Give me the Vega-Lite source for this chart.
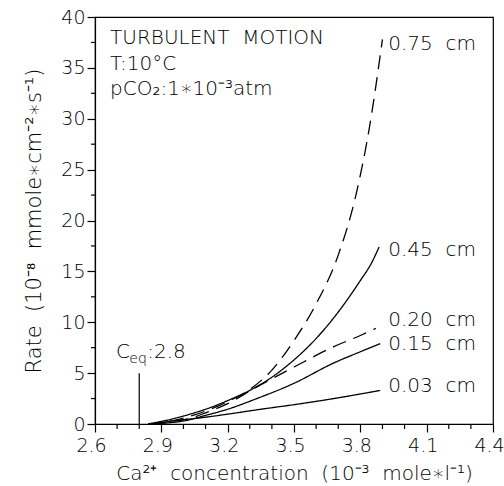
{
  "$schema": "https://vega.github.io/schema/vega-lite/v6.json",
  "autosize": {"type": "none"},
  "padding": {"left": 95, "top": 17, "right": 11, "bottom": 62},
  "width": 398,
  "height": 407,
  "config": {
    "view": {"stroke": "black", "strokeWidth": 1.2},
    "font": "DejaVu Sans",
    "axis": {"grid": false, "domainColor": "black", "tickColor": "black", "labelColor": "black", "titleColor": "black", "labelFont": "DejaVu Sans", "titleFont": "DejaVu Sans", "labelFontWeight": 300, "titleFontWeight": 300, "tickWidth": 1.2, "domainWidth": 1.2}
  },
  "datasets": {
    "curves": [
      {"s": "0.75", "x": 2.84, "y": 0}, {"s": "0.75", "x": 2.95, "y": 0.3}, {"s": "0.75", "x": 3.05, "y": 0.9}, {"s": "0.75", "x": 3.15, "y": 1.7}, {"s": "0.75", "x": 3.2, "y": 2.2}, {"s": "0.75", "x": 3.3, "y": 3.4}, {"s": "0.75", "x": 3.4, "y": 5.3}, {"s": "0.75", "x": 3.5, "y": 8.2}, {"s": "0.75", "x": 3.6, "y": 11.8}, {"s": "0.75", "x": 3.7, "y": 16.6}, {"s": "0.75", "x": 3.78, "y": 22.5}, {"s": "0.75", "x": 3.84, "y": 29.0}, {"s": "0.75", "x": 3.9, "y": 37.8},
      {"s": "0.45", "x": 2.84, "y": 0}, {"s": "0.45", "x": 2.95, "y": 0.5}, {"s": "0.45", "x": 3.05, "y": 1.1}, {"s": "0.45", "x": 3.12, "y": 1.6}, {"s": "0.45", "x": 3.2, "y": 2.3}, {"s": "0.45", "x": 3.3, "y": 3.3}, {"s": "0.45", "x": 3.4, "y": 4.6}, {"s": "0.45", "x": 3.5, "y": 6.3}, {"s": "0.45", "x": 3.6, "y": 8.4}, {"s": "0.45", "x": 3.7, "y": 11.0}, {"s": "0.45", "x": 3.8, "y": 14.1}, {"s": "0.45", "x": 3.85, "y": 15.8}, {"s": "0.45", "x": 3.885, "y": 17.4},
      {"s": "0.20", "x": 2.86, "y": 0}, {"s": "0.20", "x": 2.95, "y": 0.25}, {"s": "0.20", "x": 3.045, "y": 0.65}, {"s": "0.20", "x": 3.1, "y": 1.1}, {"s": "0.20", "x": 3.2, "y": 2.0}, {"s": "0.20", "x": 3.32, "y": 3.5}, {"s": "0.20", "x": 3.5, "y": 5.6}, {"s": "0.20", "x": 3.68, "y": 7.6}, {"s": "0.20", "x": 3.8, "y": 8.7}, {"s": "0.20", "x": 3.87, "y": 9.4},
      {"s": "0.15", "x": 2.86, "y": 0}, {"s": "0.15", "x": 2.95, "y": 0.15}, {"s": "0.15", "x": 3.015, "y": 0.35}, {"s": "0.15", "x": 3.1, "y": 0.85}, {"s": "0.15", "x": 3.2, "y": 1.45}, {"s": "0.15", "x": 3.32, "y": 2.4}, {"s": "0.15", "x": 3.5, "y": 4.0}, {"s": "0.15", "x": 3.68, "y": 6.0}, {"s": "0.15", "x": 3.8, "y": 7.1}, {"s": "0.15", "x": 3.89, "y": 7.9},
      {"s": "0.03", "x": 2.86, "y": 0}, {"s": "0.03", "x": 2.95, "y": 0.3}, {"s": "0.03", "x": 3.075, "y": 0.6}, {"s": "0.03", "x": 3.226, "y": 1.05}, {"s": "0.03", "x": 3.35, "y": 1.45}, {"s": "0.03", "x": 3.5, "y": 1.9}, {"s": "0.03", "x": 3.68, "y": 2.5}, {"s": "0.03", "x": 3.8, "y": 2.95}, {"s": "0.03", "x": 3.89, "y": 3.3}
    ],
    "labels": [
      {"t": "0.75\u00a0\u00a0cm", "x": 3.926, "y": 37.3},
      {"t": "0.45\u00a0\u00a0cm", "x": 3.926, "y": 17.1},
      {"t": "0.20\u00a0\u00a0cm", "x": 3.926, "y": 10.2},
      {"t": "0.15\u00a0\u00a0cm", "x": 3.926, "y": 7.9},
      {"t": "0.03\u00a0\u00a0cm", "x": 3.926, "y": 3.7}
    ],
    "notes": [
      {"t": "TURBULENT\u00a0\u00a0MOTION", "x": 2.668, "y": 37.3},
      {"t": "T:10°C", "x": 2.668, "y": 34.8},
      {"t": "pCO₂:1∗10⁻³atm", "x": 2.668, "y": 32.35},
      {"t": "C", "x": 2.695, "y": 6.5},
      {"t": ":2.8", "x": 2.836, "y": 6.5}
    ],
    "subs": [
      {"t": "eq", "x": 2.755, "y": 6.0}
    ],
    "ceq": [
      {"x": 2.8, "y": 0, "y2": 5}
    ],
    "xminor": [
      {"x": 2.7}, {"x": 2.8}, {"x": 3.0}, {"x": 3.1}, {"x": 3.3}, {"x": 3.4}, {"x": 3.6}, {"x": 3.7}, {"x": 3.9}, {"x": 4.0}, {"x": 4.2}, {"x": 4.3}
    ],
    "yminor": [
      {"y": 2.5}, {"y": 7.5}, {"y": 12.5}, {"y": 17.5}, {"y": 22.5}, {"y": 27.5}, {"y": 32.5}, {"y": 37.5}
    ]
  },
  "layer": [
    {
      "data": {"name": "curves"},
      "mark": {"type": "line", "color": "black", "strokeWidth": 1.3, "interpolate": "monotone"},
      "encoding": {
        "x": {"field": "x", "type": "quantitative", "scale": {"domain": [2.6, 4.4], "nice": false, "zero": false},
          "axis": {"orient": "bottom", "values": [2.6, 2.9, 3.2, 3.5, 3.8, 4.1, 4.4], "format": ".1f",
            "tickSize": 8, "labelPadding": 4, "labelOffset": -4, "labelFontSize": 19, "labelFlush": false, "labelOverlap": false, "labelBound": false,
            "title": "Ca²⁺\u00a0\u00a0concentration\u00a0\u00a0(10⁻³\u00a0\u00a0mole∗l⁻¹)", "titleFontSize": 20, "titlePadding": 8}},
        "y": {"field": "y", "type": "quantitative", "scale": {"domain": [0, 40], "nice": false},
          "axis": {"orient": "left", "values": [0, 5, 10, 15, 20, 25, 30, 35, 40],
            "tickSize": 8, "labelPadding": 2, "labelFontSize": 19, "labelFlush": false, "labelOverlap": false,
            "title": "Rate\u00a0\u00a0(10⁻⁸\u00a0\u00a0mmole∗cm⁻²∗s⁻¹)", "titleFontSize": 21, "titlePadding": 16}},
        "detail": {"field": "s"},
        "strokeDash": {"field": "s", "type": "nominal", "scale": {"domain": ["0.75", "0.45", "0.20", "0.15", "0.03"], "range": [[14, 8], [1, 0], [14, 8], [1, 0], [1, 0]]}, "legend": null}
      }
    },
    {
      "data": {"name": "xminor"},
      "mark": {"type": "rule", "color": "black", "strokeWidth": 1.2, "y2Offset": 5, "clip": false},
      "encoding": {
        "x": {"field": "x", "type": "quantitative"},
        "y": {"datum": 0},
        "y2": {"datum": 0}
      }
    },
    {
      "data": {"name": "yminor"},
      "mark": {"type": "rule", "color": "black", "strokeWidth": 1.2, "x2Offset": -4, "clip": false},
      "encoding": {
        "y": {"field": "y", "type": "quantitative"},
        "x": {"datum": 2.6},
        "x2": {"datum": 2.6}
      }
    },
    {
      "data": {"name": "ceq"},
      "mark": {"type": "rule", "color": "black", "strokeWidth": 1.2},
      "encoding": {
        "x": {"field": "x", "type": "quantitative"},
        "y": {"field": "y", "type": "quantitative"},
        "y2": {"field": "y2"}
      }
    },
    {
      "data": {"name": "labels"},
      "mark": {"type": "text", "align": "left", "baseline": "middle", "fontSize": 20, "fontWeight": 300, "color": "black"},
      "encoding": {
        "x": {"field": "x", "type": "quantitative"},
        "y": {"field": "y", "type": "quantitative"},
        "text": {"field": "t"}
      }
    },
    {
      "data": {"name": "notes"},
      "mark": {"type": "text", "align": "left", "baseline": "alphabetic", "fontSize": 20, "fontWeight": 300, "color": "black"},
      "encoding": {
        "x": {"field": "x", "type": "quantitative"},
        "y": {"field": "y", "type": "quantitative"},
        "text": {"field": "t"}
      }
    },
    {
      "data": {"name": "subs"},
      "mark": {"type": "text", "align": "left", "baseline": "alphabetic", "fontSize": 14, "fontWeight": 300, "color": "black"},
      "encoding": {
        "x": {"field": "x", "type": "quantitative"},
        "y": {"field": "y", "type": "quantitative"},
        "text": {"field": "t"}
      }
    }
  ]
}
